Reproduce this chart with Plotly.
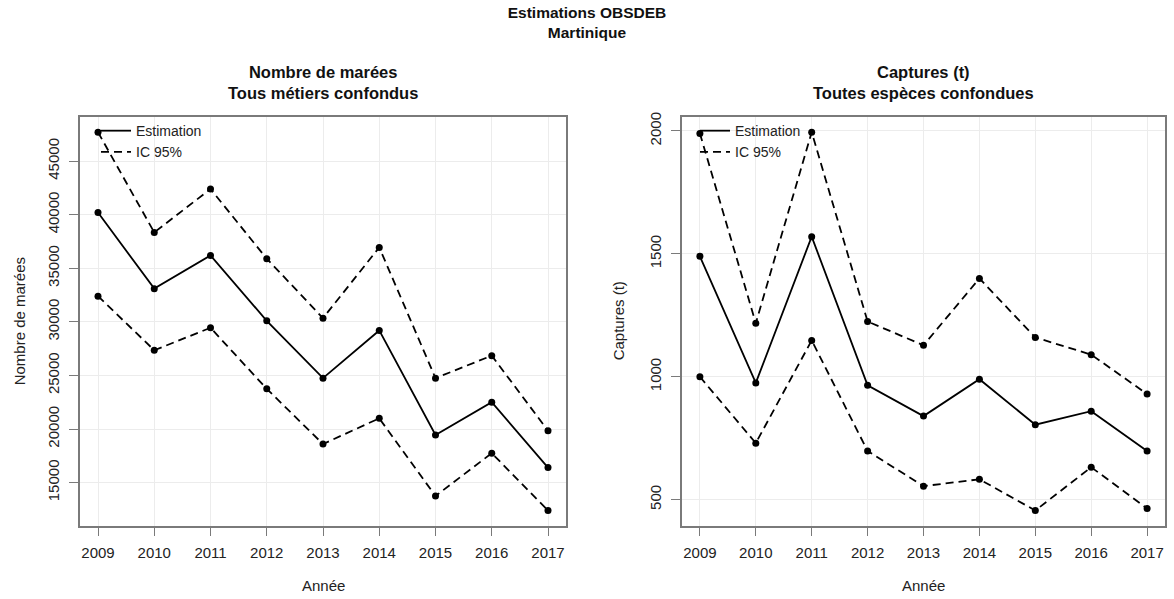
import plotly.graph_objects as go

years = [2009, 2010, 2011, 2012, 2013, 2014, 2015, 2016, 2017]

marees_est = [40200, 33100, 36200, 30100, 24750, 29200, 19450, 22500, 16400]
marees_upper = [47700, 38350, 42400, 35900, 30350, 36950, 24750, 26850, 19850]
marees_lower = [32400, 27350, 29450, 23750, 18600, 21000, 13750, 17750, 12400]

captures_est = [1490, 975, 1570, 965, 840, 990, 805, 860, 698]
captures_upper = [1990, 1218, 1995, 1225, 1128, 1400, 1160, 1090, 930]
captures_lower = [1000, 730, 1148, 698, 555, 583, 456, 632, 464]

main_title = "Estimations OBSDEB<br>Martinique"
left_title = "Nombre de marées<br>Tous métiers confondus"
right_title = "Captures (t)<br>Toutes espèces confondues"
x_title = "Année"
left_ytitle = "Nombre de marées"
right_ytitle = "Captures (t)"
legend_labels = ["Estimation", "IC 95%"]

FONT = "Liberation Sans, Arial, Helvetica, sans-serif"
W, H = 1174, 599


def pad_range(vals, frac=0.04):
    lo, hi = min(vals), max(vals)
    d = (hi - lo) * frac
    return [lo - d, hi + d]


fig = go.Figure()

dash_style = "8px,5px"


def add_panel(xa, ya, est, up, lo, legend_name):
    for vals, dash in ((est, "solid"), (up, dash_style), (lo, dash_style)):
        fig.add_trace(go.Scatter(
            x=years, y=vals, mode="lines+markers",
            line=dict(color="black", width=1.8, dash=dash),
            marker=dict(color="black", size=7),
            xaxis=xa, yaxis=ya, showlegend=False, hoverinfo="x+y",
        ))
    # legend entries (line samples only)
    for name, dash in zip(legend_labels, ("solid", dash_style)):
        fig.add_trace(go.Scatter(
            x=[None], y=[None], mode="lines", name=name,
            line=dict(color="black", width=1.8, dash=dash),
            xaxis=xa, yaxis=ya, showlegend=True, legend=legend_name,
        ))


add_panel("x", "y", marees_est, marees_upper, marees_lower, "legend")
add_panel("x2", "y2", captures_est, captures_upper, captures_lower, "legend2")

xr = pad_range(years)
axis_common = dict(
    showline=True, mirror=True, linecolor="#7a7a7a", linewidth=1.5,
    ticks="outside", ticklen=9, tickcolor="#7a7a7a", tickwidth=1,
    showgrid=True, gridcolor="#ececec", gridwidth=1, zeroline=False,
    tickfont=dict(family=FONT, size=15, color="#222222"),
)

yd = [74 / H, 486 / H]
fig.update_layout(
    width=W, height=H,
    margin=dict(l=0, r=0, t=0, b=0),
    plot_bgcolor="white", paper_bgcolor="white",
    font=dict(family=FONT, size=15, color="#222222"),
    title=dict(text=main_title, x=0.5, xanchor="center", y=(H - 18) / H,
               yanchor="middle", font=dict(family=FONT, size=15.5, color="#111111", weight="bold")),
    xaxis=dict(domain=[80 / W, 566 / W], range=xr, tickmode="array", tickvals=years,
               ticklabelstandoff=4, anchor="y", **axis_common),
    yaxis=dict(domain=yd, range=pad_range(marees_upper + marees_lower + marees_est),
               tick0=0, dtick=5000, tickformat="d", tickangle=-90, ticklabelstandoff=4,
               anchor="x", **axis_common),
    xaxis2=dict(domain=[682 / W, 1165 / W], range=xr, tickmode="array", tickvals=years,
                ticklabelstandoff=4, anchor="y2", **axis_common),
    yaxis2=dict(domain=yd, range=pad_range(captures_upper + captures_lower + captures_est),
                tick0=0, dtick=500, tickformat="d", tickangle=-90, ticklabelstandoff=4,
                anchor="x2", **axis_common),
    legend=dict(x=96 / W, y=(H - 111) / H, xanchor="left", yanchor="top",
                bgcolor="rgba(0,0,0,0)", font=dict(family=FONT, size=14, color="#222222"),
                tracegroupgap=0, itemwidth=30),
    legend2=dict(x=695 / W, y=(H - 111) / H, xanchor="left", yanchor="top",
                 bgcolor="rgba(0,0,0,0)", font=dict(family=FONT, size=14, color="#222222"),
                 tracegroupgap=0, itemwidth=30),
)

annots = [
    dict(text=left_title, x=323 / W, y=(H - 78) / H, font=dict(size=16.5, weight="bold", color="#111111")),
    dict(text=right_title, x=923.5 / W, y=(H - 78) / H, font=dict(size=16.5, weight="bold", color="#111111")),
    dict(text=x_title, x=323 / W, y=(H - 585) / H, font=dict(size=15)),
    dict(text=x_title, x=923.5 / W, y=(H - 585) / H, font=dict(size=15)),
    dict(text=left_ytitle, x=19 / W, y=(H - 319) / H, textangle=-90, font=dict(size=15)),
    dict(text=right_ytitle, x=618 / W, y=(H - 319) / H, textangle=-90, font=dict(size=15)),
]
for a in annots:
    a.update(xref="paper", yref="paper", xanchor="center", yanchor="middle", showarrow=False)
    a["font"].setdefault("family", FONT)
    a["font"].setdefault("color", "#222222")
    fig.add_annotation(**a)

fig.write_html(
    "out.html",
    config={"displayModeBar": False},
    post_script="document.body.style.margin='0';document.body.style.overflow='hidden';",
)
